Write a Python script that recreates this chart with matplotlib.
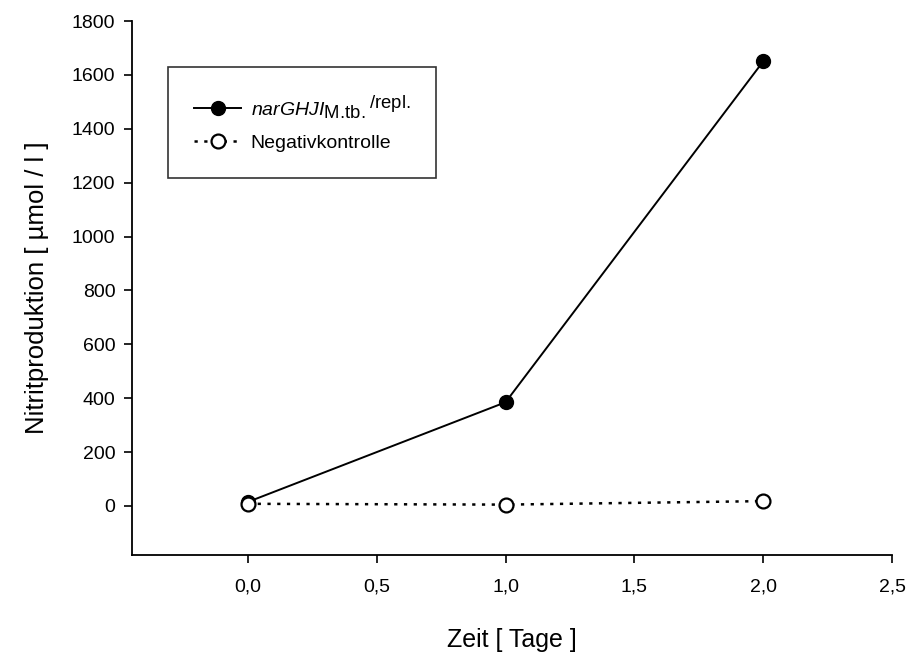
import matplotlib
matplotlib.use("Agg")
import matplotlib.pyplot as plt
import matplotlib._mathtext as _mathtext

plt.rcParams['font.family'] = ['Liberation Sans', 'DejaVu Sans']
plt.rcParams['mathtext.fontset'] = 'custom'
plt.rcParams['mathtext.rm'] = 'Liberation Sans'
plt.rcParams['mathtext.it'] = 'Liberation Sans:italic'
# keep sub- and superscripts in the legend nearly full size
if hasattr(_mathtext, 'SHRINK_FACTOR'):
    _mathtext.SHRINK_FACTOR = 0.95

# Zeitpunkte (Tage) und Nitritproduktion (µmol / l)
zeit = [0.0, 1.0, 2.0]
nar_repl = [15, 385, 1650]
negativ = [8, 5, 18]

x_ticks = [0.0, 0.5, 1.0, 1.5, 2.0, 2.5]
x_ticklabels = ['0,0', '0,5', '1,0', '1,5', '2,0', '2,5']
y_ticks = [0, 200, 400, 600, 800, 1000, 1200, 1400, 1600, 1800]

fig = plt.figure(figsize=(9.1, 6.56), dpi=100)
ax = fig.add_axes([132 / 910, 1 - 555 / 656, (892 - 132) / 910, (555 - 21) / 656])

ax.plot(zeit, nar_repl, color='black', lw=1.4, marker='o', ms=10,
        mfc='black', mec='black',
        label=r'$\mathit{narGHJI}_{\mathrm{M.\!tb.}}{}^{\mathrm{/repl.}}$')
ax.plot(zeit, negativ, color='black', lw=1.8, ls=(0, (1.3, 2.6)), marker='o',
        ms=10, mfc='white', mec='black', mew=1.6, label='Negativkontrolle')

ax.set_xlim(-0.45, 2.5)
ax.set_ylim(-182, 1800)
ax.set_xticks(x_ticks)
ax.set_xticklabels(x_ticklabels)
ax.set_yticks(y_ticks)

for side in ('top', 'right'):
    ax.spines[side].set_visible(False)
for side in ('left', 'bottom'):
    ax.spines[side].set_linewidth(1.3)
ax.tick_params(direction='out', length=6, width=1.2, labelsize=14)
ax.tick_params(axis='x', pad=11)
ax.tick_params(axis='y', pad=6)

ax.set_xlabel('Zeit [ Tage ]', fontsize=18, labelpad=23)
ax.set_ylabel('Nitritproduktion [ µmol / l ]', fontsize=18.5, labelpad=16)

leg = ax.legend(loc='upper left', bbox_to_anchor=(36 / 760, 1 - 46 / 534),
                frameon=True, fancybox=False, edgecolor='black', fontsize=14,
                handlelength=2.4, borderpad=1.35, labelspacing=0.68,
                handletextpad=0.5, borderaxespad=0)
leg.get_frame().set_linewidth(1.2)

fig.savefig('out.png', dpi=100)
